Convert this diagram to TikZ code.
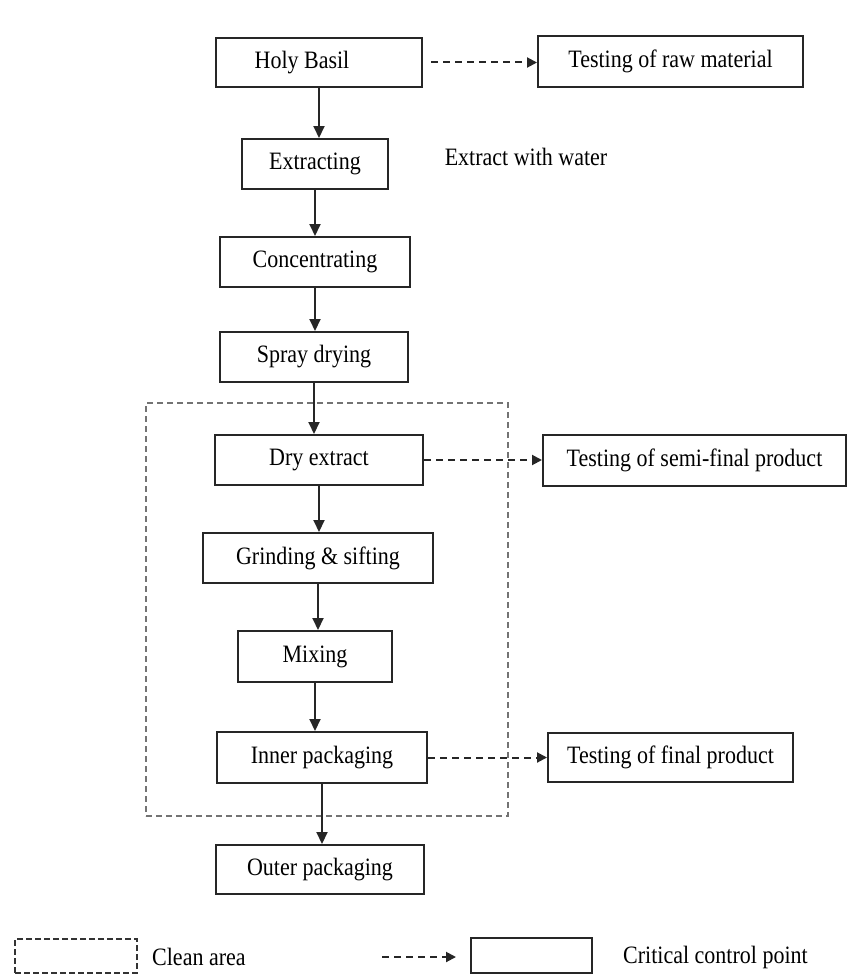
\documentclass[tikz,border=0pt]{standalone}
\usepackage{fontspec}
\setmainfont{Liberation Serif}[FakeStretch=0.88]
\usetikzlibrary{arrows.meta}
\begin{document}
\begin{tikzpicture}[x=1pt,y=-1pt,
  box/.style={draw=black!85, line width=2pt, inner sep=0pt, font=\fontsize{25}{30}\selectfont},
  lbl/.style={inner sep=0pt, font=\fontsize{25}{30}\selectfont},
  flow/.style={draw=black!85, line width=2pt, -{Triangle[length=12pt,width=11pt]}},
  test/.style={draw=black!85, line width=2pt, dash pattern=on 7pt off 5pt, -{Triangle[length=10pt,width=10pt]}},
  area/.style={draw=black!55, line width=1.6pt, dash pattern=on 6pt off 4pt, inner sep=0pt},
  legarea/.style={draw=black!80, line width=1.8pt, dash pattern=on 6pt off 3pt, inner sep=0pt}]
\useasboundingbox (0,0) rectangle (848,974);
% clean area
\node[area, minimum width=362pt, minimum height=413pt] (clean) at (327,609.5) {};
% process boxes
\node[box, minimum width=206pt, minimum height=49pt] (hb) at (319,62.5) {Holy Basil\kern34pt};
\node[box, minimum width=265pt, minimum height=51pt] (tr) at (670.5,61.5) {Testing of raw material};
\node[box, minimum width=146pt, minimum height=50pt] (ex) at (315,164) {Extracting};
\node[lbl] (ewt) at (526,157) {Extract with water};
\node[box, minimum width=190pt, minimum height=50pt] (co) at (315,262) {Concentrating};
\node[box, minimum width=188pt, minimum height=50pt] (sp) at (314,357) {Spray drying};
\node[box, minimum width=208pt, minimum height=50pt] (dry) at (319,460) {Dry extract};
\node[box, minimum width=303pt, minimum height=51pt] (ts) at (694.5,460.5) {Testing of semi-final product};
\node[box, minimum width=230pt, minimum height=50pt] (gr) at (318,558) {Grinding \& sifting};
\node[box, minimum width=154pt, minimum height=51pt] (mx) at (315,656.5) {Mixing};
\node[box, minimum width=210pt, minimum height=51pt] (ip) at (322,757.5) {Inner packaging};
\node[box, minimum width=245pt, minimum height=49pt] (tf) at (670.5,757.5) {Testing of final product};
\node[box, minimum width=208pt, minimum height=49pt] (op) at (320,869.5) {Outer packaging};
% flow arrows
\draw[flow] (hb.south) -- (hb.south |- ex.north);
\draw[flow] (ex.south) -- (ex.south |- co.north);
\draw[flow] (co.south) -- (co.south |- sp.north);
\draw[flow] (sp.south) -- (sp.south |- dry.north);
\draw[flow] (dry.south) -- (dry.south |- gr.north);
\draw[flow] (gr.south) -- (gr.south |- mx.north);
\draw[flow] (mx.south) -- (mx.south |- ip.north);
\draw[flow] (ip.south) -- (ip.south |- op.north);
% testing arrows
\draw[test, shorten <=8pt] (hb.east) -- (hb.east -| tr.west);
\draw[test] (dry.east) -- (dry.east -| ts.west);
\draw[test] (ip.east) -- (ip.east -| tf.west);
% legend
\node[legarea, minimum width=122pt, minimum height=34pt] (lgclean) at (76,956) {};
\node[lbl, anchor=west] (lgcleantxt) at (152,957) {Clean area};
\node[box, minimum width=121pt, minimum height=35pt] (lgbox) at (531.5,955.5) {};
\coordinate (lgstart) at (382,957);
\draw[test] (lgstart) -- ([xshift=-14pt]lgbox.west |- lgstart);
\node[lbl, anchor=west] (lgccp) at (623,957) {Critical control point};
\end{tikzpicture}
\end{document}
